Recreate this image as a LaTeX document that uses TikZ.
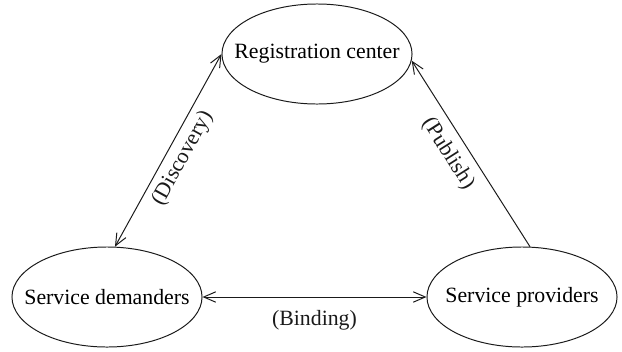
\documentclass[tikz,border=0pt]{standalone}
\usepackage{fontspec}
\setmainfont{Liberation Serif}
\usetikzlibrary{arrows.meta, shapes.geometric}
\definecolor{line-black}{HTML}{1A1A1A}

\begin{document}
\begin{tikzpicture}[x=0.025cm, y=0.025cm,
    entity/.style={draw=line-black, ellipse, line width=0.7pt, inner xsep=-0.6cm, inner ysep=0pt,
                   minimum width=4.75cm, minimum height=2.5cm, font=\fontsize{15.5}{18}\selectfont},
    link/.style={line width=0.7pt, color=line-black,
                 arrows={Straight Barb[length=3mm, width=2.6mm]-Straight Barb[length=3mm, width=2.6mm]}},
    tag/.style={font=\fontsize{15.5}{18}\selectfont, text=line-black}]
    % Diagram: registry on top, demander and provider below.
    % Coordinates in px (622 x 351), y pointing up:
    %   registration center at (317,297)
    %   service demanders at (107,54), service providers at (522,54)
    \useasboundingbox (0,0) rectangle (622,351);
    \node[entity] (reg)  at (317,297) {Registration center};
    \node[entity] (dem)  at (107,54)  {Service demanders};
    \node[entity] (prov) at (522,54)  {Service providers};
    \draw[link] (reg.west) -- (dem.81)
      node[midway, sloped, below, tag, yshift=-1pt] {(Discovery)};
    \draw[link, arrows={-Straight Barb[length=3mm, width=2.6mm]}] (prov.81) -- (reg.-4)
      node[pos=0.555, sloped, below, tag, yshift=-3pt] {(Publish)};
    \draw[link] (dem.east) -- (prov.west)
      node[midway, below, tag, yshift=-6pt] {(Binding)};
\end{tikzpicture}
\end{document}
